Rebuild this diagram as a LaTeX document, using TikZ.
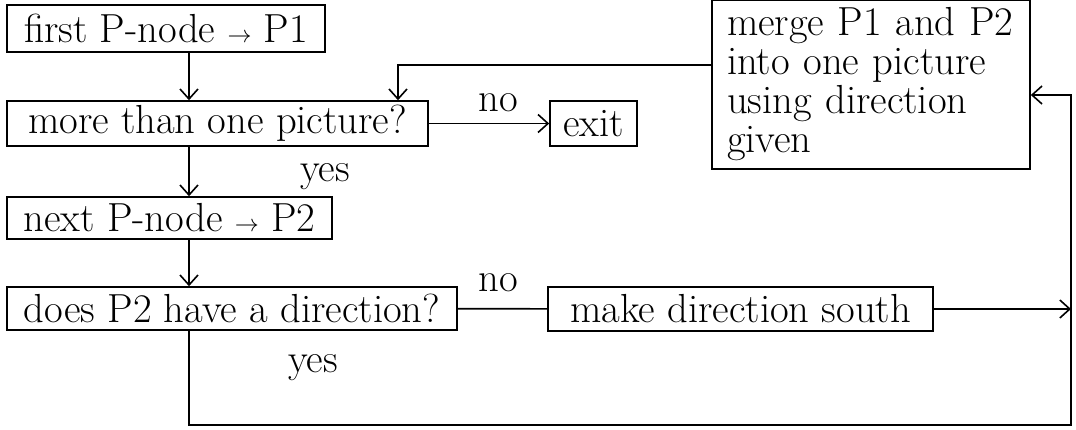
\documentclass[tikz,border=0pt]{standalone}
\usetikzlibrary{arrows.meta}
\newcommand{\smallto}{{\fontsize{13}{13}\selectfont$\rightarrow$}}
\tikzset{
  box/.style={draw, line width=.8pt, inner sep=0pt, align=center},
  flow/.style={line width=.8pt, -{Straight Barb[length=5pt,width=9pt,line width=.8pt]}},
  line/.style={line width=.8pt}
}
\begin{document}
\begin{tikzpicture}[x=.5pt, y=-.5pt, every node/.style={font=\fontsize{20.3}{19.5}\selectfont}]
  \useasboundingbox (0,0) rectangle (1076,429);
  \coordinate (M) at (189,0);
  \coordinate (F) at (398,65);
  \coordinate (R) at (1071,95);
  \coordinate (Q) at (1071,425);
  \node[box, minimum width=159pt, minimum height=23.5pt] (first) at (166,28.5) {first P-node \smallto{} P1};
  \node[box, minimum width=210.5pt, minimum height=22.5pt] (more) at (217.5,123.5) {more than one picture?};
  \node[box, minimum width=43.5pt, minimum height=22.5pt] (exit) at (593.5,123.5) {exit};
  \node[box, minimum width=162.5pt, minimum height=21pt] (next) at (169.5,218) {next P-node \smallto{} P2};
  \node[box, minimum width=225pt, minimum height=21.5pt] (dir) at (232,308.5) {does P2 have a direction?};
  \node[box, minimum width=192.5pt, minimum height=22pt] (south) at (740.5,309) {make direction south};
  \node[box, minimum width=159pt, minimum height=79.5pt, inner xsep=7.5pt, inner ysep=4pt, text width=144pt, align=left] (merge) at (871,84.5)
    {merge P1 and P2\\ into one picture\\ using direction\\ given};
  \draw[flow] (first.south -| M) -- (more.north -| M);
  \draw[flow] (more.south -| M) -- (next.north -| M);
  \draw[flow] (next.south -| M) -- (dir.north -| M);
  \draw[flow] (more) -- (exit);
  \draw[line] (dir) -- (south);
  \draw[flow] (south.east) -- (south.east -| Q);
  \draw[flow] (merge.west |- F) -- (F) -- (F |- more.north);
  \draw[flow] (dir.south -| M) |- (Q) -- (R) -- (merge.east |- R);
  \node (no1) at (498,103) {no};
  \node (yes1) at (325,177) {yes};
  \node (no2) at (498,283) {no};
  \node (yes2) at (313,368) {yes};
\end{tikzpicture}
\end{document}
